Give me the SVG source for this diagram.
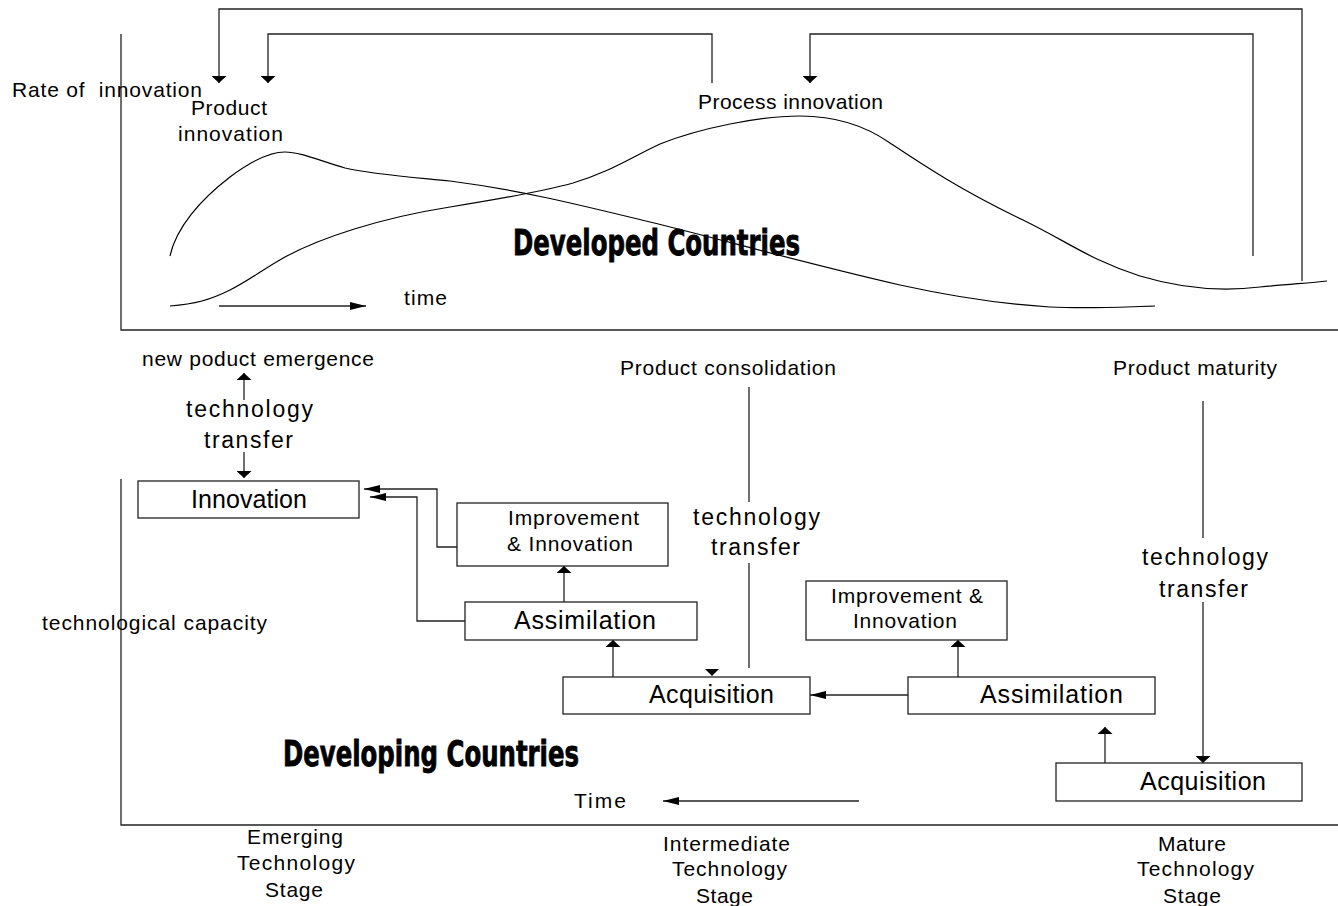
<svg xmlns="http://www.w3.org/2000/svg" width="1338" height="906" viewBox="0 0 1338 906">
<style>
text{font-family:"Liberation Sans",Arial,sans-serif;fill:#000;}
.s{font-size:21px;}
.b{font-size:25px;}
.t{font-size:23px;}
.big{font-family:"DejaVu Sans Condensed","Liberation Sans Narrow","Liberation Sans",sans-serif;font-weight:bold;font-size:36px;stroke:#000;stroke-width:0.8;}
.box{fill:#fff;stroke:#222;stroke-width:1.3;}
.ln{fill:none;stroke:#222;stroke-width:1.3;}
.cv{fill:none;stroke:#000;stroke-width:1.2;}
</style>
<defs>
<marker id="v" markerUnits="userSpaceOnUse" markerWidth="8" markerHeight="15" refX="7" refY="7.5" orient="auto"><path d="M0,0 L7,7.5 L0,15 Z" fill="#000"/></marker>
<marker id="h" markerUnits="userSpaceOnUse" markerWidth="16" markerHeight="8" refX="16" refY="4" orient="auto"><path d="M0,0 L16,4 L0,8 Z" fill="#000"/></marker>
</defs>
<rect width="1338" height="906" fill="#fff"/>

<g id="axes">
<path class="ln" d="M121,34 V330 H1338"/>
<path class="ln" d="M121,479 V825 H1338"/>
</g>

<g id="curves">
<path class="cv" d="M170,256 C176,228 200,200 230,177 C250,162 268,152 285,152 C300,152 318,160 345,168 C370,174 410,177 450,181 C520,190 580,205 650,222 C720,239 800,262 900,285 C950,296 1000,304 1050,307 C1090,309 1120,307 1155,306"/>
<path class="cv" d="M170,306 C195,304 210,300 230,290 C250,280 265,268 285,257 C320,238 380,218 450,207 C500,199 540,192 573,183 C610,172 630,158 660,144 C700,128 760,116 800,116 C830,116 860,122 890,143 C920,163 960,190 1023,220 C1070,243 1090,260 1140,276 C1180,288 1220,292 1260,287 C1290,284 1310,283 1327,281"/>
</g>

<g id="labels">
<text class="s" x="12" y="97" textLength="190" xml:space="preserve">Rate of  innovation</text>
<text class="s" x="191" y="115" textLength="76">Product</text>
<text class="s" x="178" y="141" textLength="105">innovation</text>
<text class="s" x="698" y="109" textLength="185">Process innovation</text>
<text class="big" x="513" y="255" textLength="287" lengthAdjust="spacingAndGlyphs">Developed Countries</text>
<text class="s" x="404" y="305" textLength="43">time</text>
<text class="s" x="142" y="366" textLength="232">new poduct emergence</text>
<text class="t" x="186" y="417" textLength="127">technology</text>
<text class="t" x="204" y="448" textLength="89">transfer</text>
<text class="s" x="620" y="375" textLength="216">Product consolidation</text>
<text class="s" x="1113" y="375" textLength="164">Product maturity</text>
<text class="t" x="693" y="525" textLength="127">technology</text>
<text class="t" x="711" y="555" textLength="89">transfer</text>
<text class="t" x="1142" y="565" textLength="126">technology</text>
<text class="t" x="1159" y="597" textLength="89">transfer</text>
<text class="s" x="42" y="630" textLength="225">technological capacity</text>
<text class="big" x="283" y="766" textLength="296" lengthAdjust="spacingAndGlyphs">Developing Countries</text>
<text class="s" x="574" y="808" textLength="52">Time</text>
<text class="s" x="247" y="844" textLength="96">Emerging</text>
<text class="s" x="237" y="870" textLength="118">Technology</text>
<text class="s" x="265" y="897" textLength="58">Stage</text>
<text class="s" x="663" y="851" textLength="127">Intermediate</text>
<text class="s" x="672" y="876" textLength="115">Technology</text>
<text class="s" x="696" y="903" textLength="57">Stage</text>
<text class="s" x="1158" y="851" textLength="68">Mature</text>
<text class="s" x="1137" y="876" textLength="117">Technology</text>
<text class="s" x="1163" y="903" textLength="58">Stage</text>
</g>

<g id="connectors">
<path class="ln" d="M1302,281 V9 H219 V83" marker-end="url(#v)"/>
<path class="ln" d="M712,83 V34 H268 V83" marker-end="url(#v)"/>
<path class="ln" d="M1253,256 V34 H810 V83" marker-end="url(#v)"/>
<path class="ln" d="M219,306 H366" marker-end="url(#h)"/>
<path class="ln" d="M244,400 V373" marker-end="url(#v)"/>
<path class="ln" d="M244,452 V478" marker-end="url(#v)"/>
<path class="ln" d="M465,547 H437 V489 H364" marker-end="url(#h)"/>
<path class="ln" d="M465,621 H417 V497 H370" marker-end="url(#h)"/>
<path class="ln" d="M564,602 V566" marker-end="url(#v)"/>
<path class="ln" d="M613,677 V640" marker-end="url(#v)"/>
<path class="ln" d="M749,387 V502"/>
<path class="ln" d="M749,563 V668"/>
<polygon points="705,669 719,669 712,676" fill="#000"/>
<path class="ln" d="M958,677 V640" marker-end="url(#v)"/>
<path class="ln" d="M908,695 H810" marker-end="url(#h)"/>
<path class="ln" d="M1105,763 V727" marker-end="url(#v)"/>
<path class="ln" d="M1203,401 V538"/>
<path class="ln" d="M1203,602 V763" marker-end="url(#v)"/>
<path class="ln" d="M859,801 H663" marker-end="url(#h)"/>
</g>

<g id="node-innovation">
<rect class="box" x="138" y="481" width="221" height="37"/>
<text class="b" x="191" y="508" textLength="116">Innovation</text>
</g>
<g id="node-improvement1">
<rect class="box" x="457" y="503" width="211" height="63"/>
<text class="s" x="508" y="525" textLength="131">Improvement</text>
<text class="s" x="507" y="551" textLength="126">&amp; Innovation</text>
</g>
<g id="node-assimilation1">
<rect class="box" x="465" y="602" width="232" height="38"/>
<text class="b" x="514" y="629" textLength="142">Assimilation</text>
</g>
<g id="node-acquisition1">
<rect class="box" x="563" y="677" width="247" height="37"/>
<text class="b" x="649" y="703" textLength="125">Acquisition</text>
</g>
<g id="node-improvement2">
<rect class="box" x="806" y="581" width="201" height="59"/>
<text class="s" x="831" y="603" textLength="152">Improvement &amp;</text>
<text class="s" x="853" y="628" textLength="104">Innovation</text>
</g>
<g id="node-assimilation2">
<rect class="box" x="908" y="677" width="247" height="37"/>
<text class="b" x="980" y="703" textLength="143">Assimilation</text>
</g>
<g id="node-acquisition2">
<rect class="box" x="1056" y="763" width="246" height="38"/>
<text class="b" x="1140" y="790" textLength="126">Acquisition</text>
</g>
</svg>
